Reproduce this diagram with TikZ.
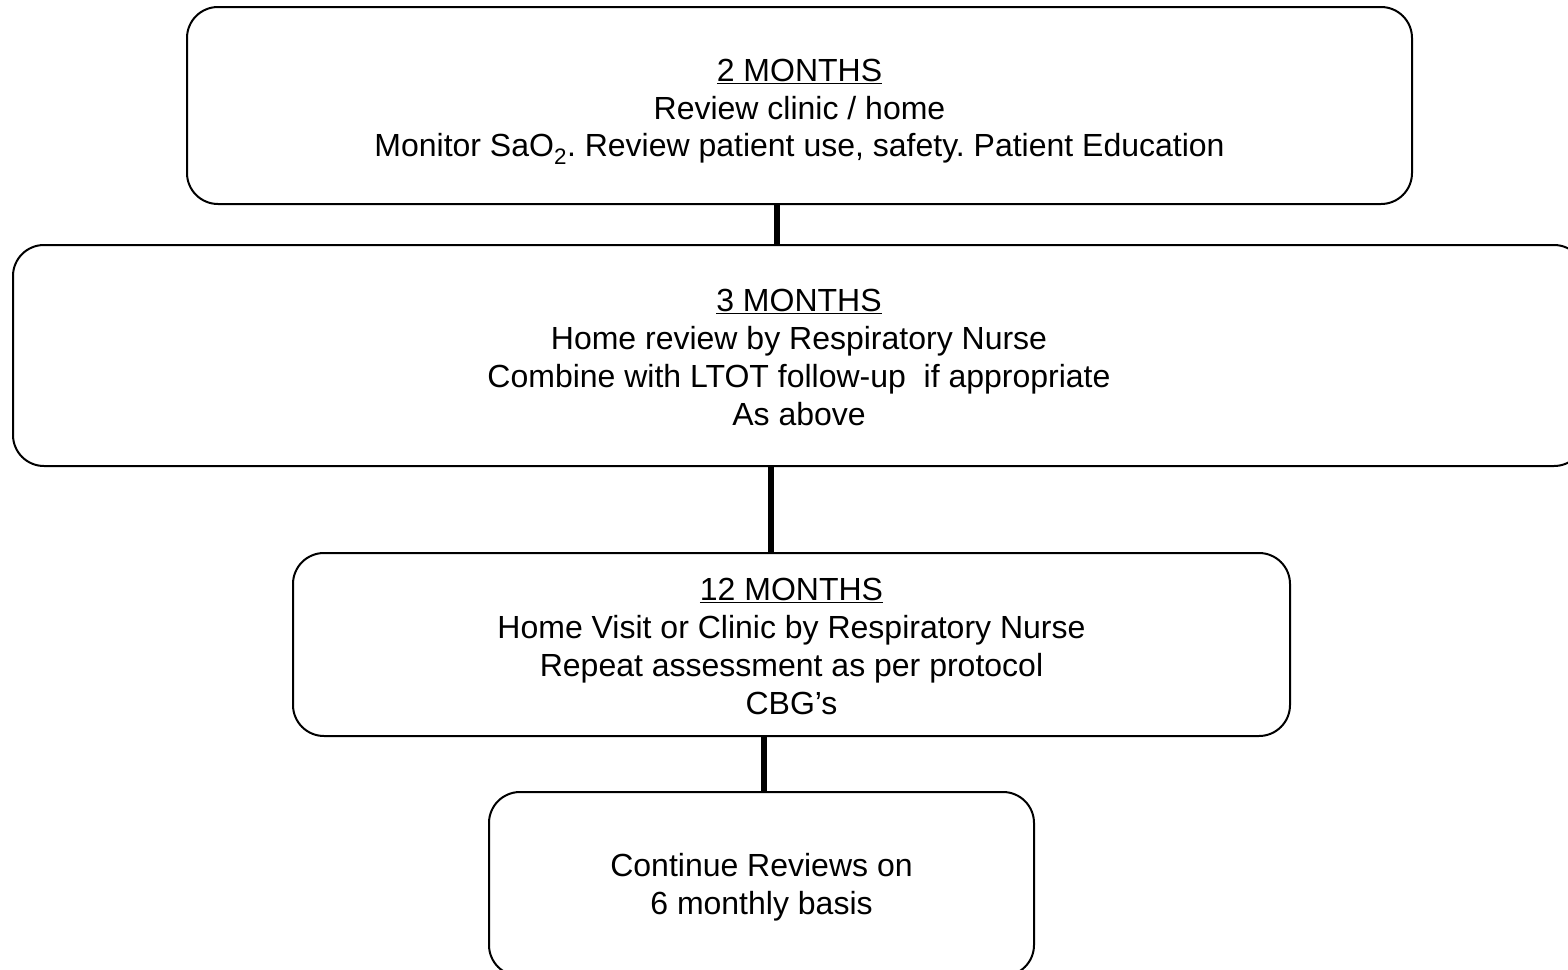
\documentclass[tikz,border=0pt]{standalone}
\usepackage{fontspec}
\setmainfont{Liberation Sans}
\frenchspacing
\begin{document}
\begin{tikzpicture}[x=1pt,y=-1pt,
  box/.style={draw=black, line width=2pt, rounded corners=31pt, inner sep=0pt},
  txt/.style={align=center, inner sep=0pt, font=\fontsize{32}{37.8}\selectfont},
  link/.style={line width=6pt, draw=black}]
\useasboundingbox (0,0) rectangle (1568,969);
\fill[white] (0,0) rectangle (1568,969);
\node[box, minimum width=1225pt, minimum height=197pt] (b1) at (799.5,105.5) {};
\node[box, minimum width=1572pt, minimum height=221pt] (b2) at (799,355.5) {};
\node[box, minimum width=997pt, minimum height=183pt] (b3) at (791.5,644.5) {};
\node[box, minimum width=545pt, minimum height=184pt] (b4) at (761.5,884) {};
\node[txt] (t1) at ([yshift=-6pt]b1.center)
  {\underline{2 MONTHS}\\Review clinic / home\\Monitor SaO\textsubscript{2}. Review patient use, safety. Patient Education};
\node[txt] (t2) at ([yshift=-2pt]b2.center)
  {\underline{3 MONTHS}\\Home review by Respiratory Nurse\\Combine with LTOT follow-up\ \ if appropriate\\As above};
\node[txt] (t3) at ([yshift=-2pt]b3.center)
  {\underline{12 MONTHS}\\Home Visit or Clinic by Respiratory Nurse\\Repeat assessment as per protocol\\CBG’s};
\node[txt] (t4) at ([yshift=-3pt]b4.center)
  {Continue Reviews on\\6 monthly basis};
\draw[link] ([xshift=-22.5pt]b1.south) -- ([xshift=-22pt]b2.north);
\draw[link] ([xshift=-28.5pt]b2.south) -- ([xshift=-21pt]b3.north);
\draw[link] ([xshift=-27.5pt]b3.south) -- ([xshift=2.5pt]b4.north);
\end{tikzpicture}
\end{document}
